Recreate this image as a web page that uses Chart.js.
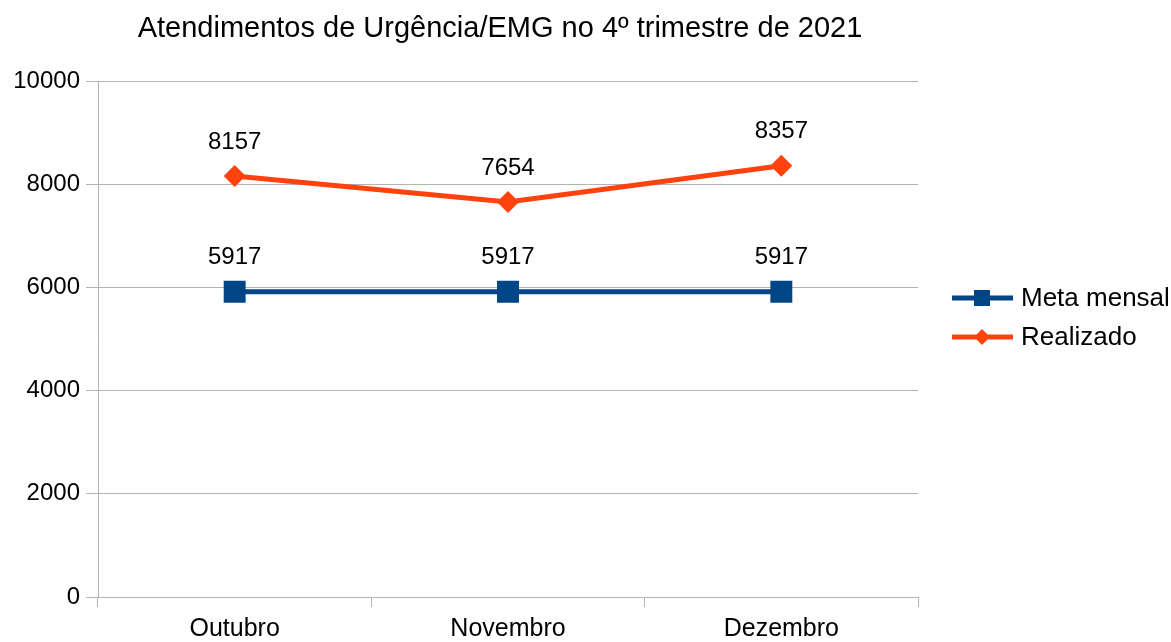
<!DOCTYPE html>
<html>
<head>
<meta charset="utf-8">
<script src="https://cdn.jsdelivr.net/npm/chart.js@4"></script>
<style>
  html, body { margin: 0; padding: 0; background: #fff; }
  #wrap { width: 1171px; height: 642px; position: relative; }
</style>
</head>
<body>
<div id="wrap"><canvas id="chart"></canvas></div>
<script>
// Chart data
const months = ['Outubro', 'Novembro', 'Dezembro'];
const metaMensal = [5917, 5917, 5917];
const realizado = [8157, 7654, 8357];
const yTicks = [0, 2000, 4000, 6000, 8000, 10000];

const chartTitle = 'Atendimentos de Urgência/EMG no 4º trimestre de 2021';
const FONT = '"Liberation Sans", Arial, sans-serif';
const BLUE = '#004586';
const ORANGE = '#ff420e';

// value labels above each point
const valueLabels = {
    id: 'valueLabels',
    afterDatasetsDraw(chart) {
        const ctx = chart.ctx;
        ctx.save();
        ctx.font = '24px ' + FONT;
        ctx.fillStyle = '#000';
        ctx.textAlign = 'center';
        ctx.textBaseline = 'middle';
        chart.data.datasets.forEach((ds, i) => {
            const meta = chart.getDatasetMeta(i);
            meta.data.forEach((pt, j) => {
                ctx.fillText(String(ds.data[j]), pt.x, pt.y - 34);
            });
        });
        ctx.restore();
    }
};

// title + legend with line-and-marker symbols
const titleAndLegend = {
    id: 'titleAndLegend',
    afterDraw(chart) {
        const ctx = chart.ctx;
        ctx.save();
        ctx.font = '29px ' + FONT;
        ctx.fillStyle = '#000';
        ctx.textAlign = 'center';
        ctx.textBaseline = 'middle';
        ctx.fillText(chartTitle, 500, 29);

        ctx.font = '26px ' + FONT;
        const rows = [298, 337];
        chart.data.datasets.forEach((ds, i) => {
            const y = rows[i];
            ctx.strokeStyle = ds.borderColor;
            ctx.lineWidth = 5;
            ctx.beginPath();
            ctx.moveTo(952, y);
            ctx.lineTo(1013, y);
            ctx.stroke();
            ctx.fillStyle = ds.borderColor;
            ctx.beginPath();
            if (ds.pointStyle === 'rect') {
                ctx.rect(982 - 8, y - 8, 16, 16);
            } else {
                ctx.moveTo(982, y - 8);
                ctx.lineTo(990, y);
                ctx.lineTo(982, y + 8);
                ctx.lineTo(974, y);
                ctx.closePath();
            }
            ctx.fill();
            ctx.fillStyle = '#000';
            ctx.textAlign = 'left';
            ctx.fillText(ds.label, 1021, y + 1);
        });
        ctx.restore();
    }
};

new Chart(document.getElementById('chart'), {
    type: 'line',
    data: {
        labels: months,
        datasets: [
            {
                label: 'Meta mensal',
                data: metaMensal,
                borderColor: BLUE,
                backgroundColor: BLUE,
                pointBackgroundColor: BLUE,
                pointBorderColor: BLUE,
                borderWidth: 5,
                pointStyle: 'rect',
                pointRadius: 15.5,
                pointBorderWidth: 0,
                tension: 0
            },
            {
                label: 'Realizado',
                data: realizado,
                borderColor: ORANGE,
                backgroundColor: ORANGE,
                pointBackgroundColor: ORANGE,
                pointBorderColor: ORANGE,
                borderWidth: 5,
                pointStyle: 'rectRot',
                pointRadius: 11,
                pointBorderWidth: 0,
                tension: 0
            }
        ]
    },
    options: {
        responsive: true,
        maintainAspectRatio: false,
        animation: false,
        layout: { padding: { top: 81, right: 253, left: 0, bottom: 0 } },
        plugins: {
            legend: { display: false },
            title: { display: false },
            tooltip: { enabled: false }
        },
        scales: {
            x: {
                offset: true,
                border: { color: '#b3b3b3', width: 1 },
                grid: {
                    offset: true,
                    drawOnChartArea: false,
                    drawTicks: true,
                    tickLength: 10,
                    color: '#b3b3b3'
                },
                ticks: {
                    color: '#000',
                    font: { family: FONT, size: 25 },
                    padding: 7,
                    maxRotation: 0
                },
                afterFit: (scale) => { scale.height = 45; }
            },
            y: {
                min: 0,
                max: 10000,
                border: { color: '#b3b3b3', width: 1 },
                grid: {
                    color: '#b3b3b3',
                    tickLength: 12,
                    drawTicks: true
                },
                afterBuildTicks: (scale) => {
                    scale.ticks = yTicks.map(v => ({ value: v }));
                },
                ticks: {
                    color: '#000',
                    font: { family: FONT, size: 24 },
                    padding: 6,
                    callback: (v) => String(v)
                },
                afterFit: (scale) => { scale.width = 98; }
            }
        }
    },
    plugins: [valueLabels, titleAndLegend]
});
</script>
</body>
</html>
